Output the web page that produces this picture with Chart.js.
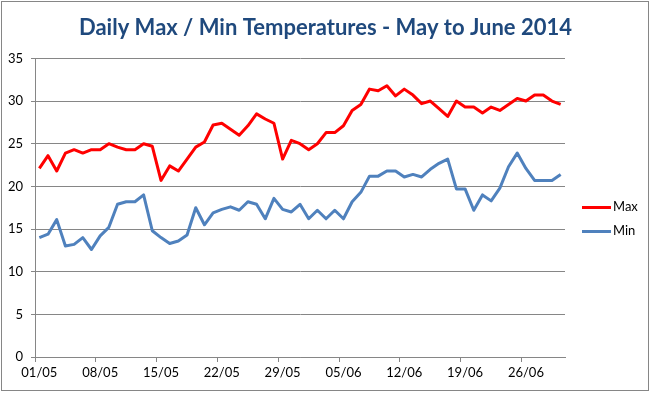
<!DOCTYPE html>
<html>
<head>
<meta charset="utf-8">
<script src="https://cdn.jsdelivr.net/npm/chart.js@4.4.1/dist/chart.umd.min.js"></script>
<style>
  body { margin: 0; background: #ffffff; }
  #wrap { position: relative; width: 651px; height: 393px; }
  #frame { position: absolute; left: 1px; top: 1px; width: 646px; height: 388px; border: 1px solid #868686; pointer-events: none; }
  .leg { position: absolute; left: 582px; font: 13px Lato, sans-serif; color: #000; line-height: 16px; }
  .leg span { display: inline-block; width: 29px; height: 3px; vertical-align: middle; margin-right: 2px; }
</style>
</head>
<body>
<div id="wrap">
  <canvas id="tempChart" width="651" height="393"></canvas>
  <div id="frame"></div>
  <div class="leg" style="top:198px"><span style="background:#ff0000"></span>Max</div>
  <div class="leg" style="top:222px"><span style="background:#4f81bd"></span>Min</div>
</div>
<script>
// Day labels, 1 May - 30 June 2014
const days = [
  '01/05','02/05','03/05','04/05','05/05','06/05','07/05','08/05','09/05','10/05',
  '11/05','12/05','13/05','14/05','15/05','16/05','17/05','18/05','19/05','20/05',
  '21/05','22/05','23/05','24/05','25/05','26/05','27/05','28/05','29/05','30/05',
  '31/05','01/06','02/06','03/06','04/06','05/06','06/06','07/06','08/06','09/06',
  '10/06','11/06','12/06','13/06','14/06','15/06','16/06','17/06','18/06','19/06',
  '20/06','21/06','22/06','23/06','24/06','25/06','26/06','27/06','28/06','29/06',
  '30/06'
];

// Daily maximum (°C)
const maxTemps = [
  22.1, 23.6, 21.8, 23.9, 24.3, 23.9, 24.3, 24.3, 25.0, 24.6,
  24.3, 24.3, 25.0, 24.7, 20.7, 22.4, 21.8, 23.2, 24.6, 25.2,
  27.2, 27.4, 26.7, 26.0, 27.1, 28.5, 27.9, 27.4, 23.2, 25.4,
  25.0, 24.3, 25.0, 26.3, 26.3, 27.1, 28.9, 29.6, 31.4, 31.2,
  31.8, 30.6, 31.4, 30.7, 29.7, 30.0, 29.1, 28.2, 30.0, 29.3,
  29.3, 28.6, 29.3, 28.9, 29.6, 30.3, 30.0, 30.7, 30.7, 30.0,
  29.6
];

// Daily minimum (°C)
const minTemps = [
  14.0, 14.4, 16.1, 13.0, 13.2, 14.0, 12.6, 14.2, 15.2, 17.9,
  18.2, 18.2, 19.0, 14.8, 14.0, 13.3, 13.6, 14.3, 17.5, 15.5,
  16.9, 17.3, 17.6, 17.2, 18.2, 17.9, 16.2, 18.6, 17.3, 17.0,
  17.9, 16.2, 17.2, 16.2, 17.2, 16.2, 18.2, 19.3, 21.2, 21.2,
  21.8, 21.8, 21.1, 21.4, 21.1, 22.0, 22.7, 23.2, 19.7, 19.7,
  17.2, 19.0, 18.3, 19.8, 22.3, 23.9, 22.1, 20.7, 20.7, 20.7,
  21.4
];

const yTicks = [0, 5, 10, 15, 20, 25, 30, 35];
const labelEvery = 7;

const axisGray = '#868686';
const tickFont = { family: 'Lato, sans-serif', size: 13 };

// centre the title over the whole canvas, not just the padded plot
const fullWidthTitle = {
  id: 'fullWidthTitle',
  afterLayout(chart) {
    const t = chart.titleBlock;
    if (t) {
      t.left = 0;
      t.right = chart.width;
      t.width = chart.width;
    }
  }
};

new Chart(document.getElementById('tempChart'), {
  type: 'line',
  data: {
    labels: days,
    datasets: [
      {
        label: 'Max',
        data: maxTemps,
        borderColor: '#ff0000',
        borderWidth: 3,
        borderJoinStyle: 'round',
        pointRadius: 0,
        tension: 0
      },
      {
        label: 'Min',
        data: minTemps,
        borderColor: '#4f81bd',
        borderWidth: 3,
        borderJoinStyle: 'round',
        pointRadius: 0,
        tension: 0
      }
    ]
  },
  options: {
    responsive: false,
    animation: false,
    layout: { padding: { left: 0, right: 86, top: 0, bottom: 0 } },
    plugins: {
      legend: { display: false },
      tooltip: { enabled: false },
      title: {
        display: true,
        text: 'Daily Max / Min Temperatures - May to June 2014',
        color: '#1f497d',
        font: { family: 'Lato, sans-serif', size: 22, weight: 'bold' },
        padding: { top: 15, bottom: 17 }
      }
    },
    scales: {
      x: {
        type: 'category',
        offset: true,
        afterFit: function(scale) { scale.height = 36; },
        grid: {
          offset: true,
          drawOnChartArea: false,
          drawTicks: true,
          tickLength: 5,
          color: function(ctx) {
            return (ctx.index !== undefined && ctx.index % labelEvery === 0) ? axisGray : 'rgba(0,0,0,0)';
          }
        },
        border: { color: axisGray },
        ticks: {
          autoSkip: false,
          maxRotation: 0,
          minRotation: 0,
          padding: 3,
          color: '#000',
          font: tickFont,
          callback: function(val, idx) {
            return idx % labelEvery === 0 ? this.getLabelForValue(val) : '';
          }
        }
      },
      y: {
        min: yTicks[0],
        max: yTicks[yTicks.length - 1],
        afterFit: function(scale) { scale.width = 35; },
        afterBuildTicks: function(scale) {
          scale.ticks = yTicks.map(v => ({ value: v }));
        },
        grid: { color: axisGray, tickLength: 4 },
        border: { color: axisGray },
        ticks: {
          padding: 8,
          color: '#000',
          font: tickFont
        }
      }
    }
  },
  plugins: [fullWidthTitle]
});
</script>
</body>
</html>
